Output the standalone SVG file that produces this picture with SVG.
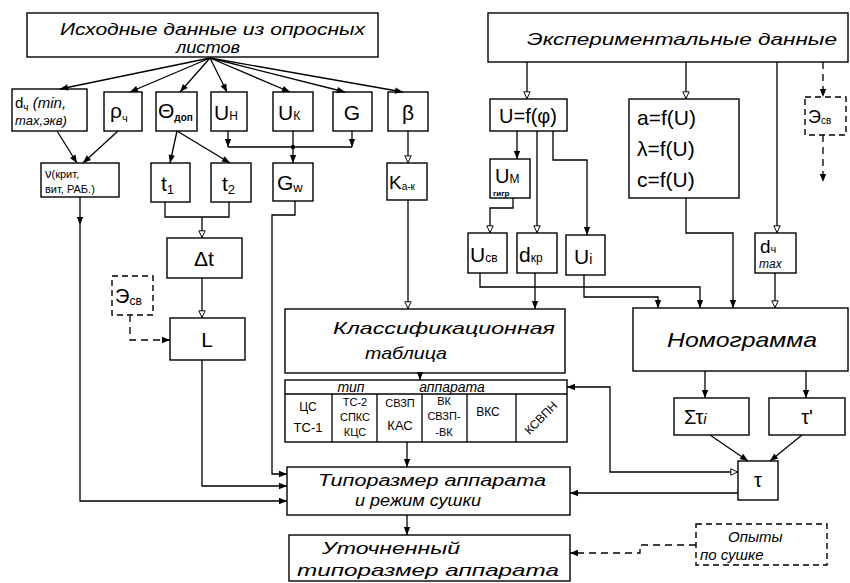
<svg xmlns="http://www.w3.org/2000/svg" width="850" height="583" viewBox="0 0 850 583">
<style>
rect{fill:none;stroke:#000;stroke-width:1.4}
.d{stroke-dasharray:6,4}
.c path,.c line{fill:none;stroke:#000;stroke-width:1.3}
.c .dl{stroke-dasharray:7,5}
text{font-family:"Liberation Sans","DejaVu Sans",sans-serif;fill:#000}
.h{font-style:italic;font-size:17px}
.s{font-size:21px}
.m{font-size:12px}
</style>
<defs>
<marker id="f" viewBox="0 0 10 10" refX="10" refY="5" markerWidth="10" markerHeight="8" markerUnits="userSpaceOnUse" orient="auto-start-reverse"><path d="M0,1 L10,5 L0,9 z" fill="#000"/></marker>
<marker id="o" viewBox="0 0 10 10" refX="10" refY="5" markerWidth="10" markerHeight="8" markerUnits="userSpaceOnUse" orient="auto-start-reverse"><path d="M1,1 L9.5,5 L1,9 z" fill="#fff" stroke="#000" stroke-width="1.2"/></marker>
</defs>
<rect x="0" y="0" width="850" height="583" style="fill:#fff;stroke:none"/>

<g id="src"><rect x="27" y="13" width="351" height="44"/><text class="h" x="60" y="35" textLength="305" lengthAdjust="spacingAndGlyphs">Исходные данные из опросных</text><text class="h" x="176" y="53" textLength="64" lengthAdjust="spacingAndGlyphs">листов</text></g>
<g id="dch"><rect x="12" y="89" width="75" height="42"/><text x="15" y="108" font-size="15">d<tspan font-size="10" dy="3">ч</tspan><tspan dy="-3" font-style="italic"> (min,</tspan></text><text x="15" y="125" font-size="13" font-style="italic">max,экв)</text></g>
<g id="rho"><rect x="104" y="92" width="38" height="39"/><text class="s" x="110" y="118">ρ<tspan font-size="11" dy="4">ч</tspan></text></g>
<g id="theta"><rect x="156" y="92" width="41" height="39"/><text class="s" x="158" y="118">Θ<tspan font-size="10" font-weight="bold" dy="3">доп</tspan></text></g>
<g id="un"><rect x="211" y="92" width="36" height="39"/><text class="s" x="214" y="120">U<tspan font-size="12">Н</tspan></text></g>
<g id="uk"><rect x="273" y="92" width="40" height="39"/><text class="s" x="278" y="120">U<tspan font-size="12">К</tspan></text></g>
<g id="g"><rect x="333" y="92" width="39" height="39"/><text class="s" x="352" y="120" text-anchor="middle">G</text></g>
<g id="beta"><rect x="388" y="92" width="40" height="39"/><text class="s" x="408" y="120" text-anchor="middle">β</text></g>

<g id="nu"><rect x="41" y="163" width="78" height="34"/><text x="45" y="178" font-size="13">ν<tspan font-size="11">(крит,</tspan></text><text x="45" y="193" font-size="11">вит, РАБ.)</text></g>
<g id="t1"><rect x="151" y="163" width="39" height="39"/><text class="s" x="161" y="191">t<tspan font-size="13" dy="3">1</tspan></text></g>
<g id="t2"><rect x="211" y="163" width="40" height="39"/><text class="s" x="222" y="191">t<tspan font-size="13" dy="3">2</tspan></text></g>
<g id="gw"><rect x="273" y="163" width="40" height="38"/><text class="s" x="277" y="190">G<tspan font-size="13" dy="2">w</tspan></text></g>
<g id="kak"><rect x="387" y="163" width="40" height="37"/><text x="389" y="189" font-size="19">K<tspan font-size="10" dy="1">а-к</tspan></text></g>

<g id="dt"><rect x="167" y="238" width="75" height="40"/><text class="s" x="204" y="266" text-anchor="middle">Δt</text></g>
<g id="esv1"><rect class="d" x="112" y="276" width="41" height="39"/><text x="115" y="303" font-size="20">Э<tspan font-size="12" dy="2">св</tspan></text></g>
<g id="l"><rect x="170" y="318" width="75" height="42"/><text class="s" x="207" y="347" text-anchor="middle">L</text></g>

<g id="klass"><rect x="285" y="309" width="280" height="64"/><text class="h" x="333" y="334" font-size="18" textLength="222" lengthAdjust="spacingAndGlyphs">Классификационная</text><text class="h" x="365" y="359" font-size="18" textLength="82" lengthAdjust="spacingAndGlyphs">таблица</text></g>

<g id="tip"><rect x="285" y="380" width="282" height="62"/>
<line x1="285" y1="394" x2="567" y2="394" style="stroke:#000;stroke-width:1.3"/>
<path d="M332,394V442M377,394V442M422,394V442M467,394V442M516,394V442" style="stroke:#000;stroke-width:1.3"/>
<text x="351" y="392" font-size="14" font-style="italic" text-anchor="middle">тип</text><text x="452" y="392" font-size="14" font-style="italic" text-anchor="middle">аппарата</text>
<g class="m" text-anchor="middle">
<text x="308" y="411">ЦС</text><text x="308" y="432" font-size="13">ТС-1</text>
<text x="355" y="406" font-size="11">ТС-2</text><text x="355" y="421" font-size="11">СПКС</text><text x="355" y="436" font-size="11">КЦС</text>
<text x="400" y="407" font-size="11">СВЗП</text><text x="400" y="430" font-size="13">КАС</text>
<text x="444" y="405" font-size="11">ВК</text><text x="444" y="420" font-size="11">СВЗП-</text><text x="444" y="436" font-size="11">-ВК</text>
<text x="488" y="416">ВКС</text>
<text x="541" y="422" font-size="12" transform="rotate(-45 541 418)">КСВПН</text>
</g></g>

<g id="tipor"><rect x="287" y="467" width="283" height="48"/><text x="318" y="486" font-size="16" font-style="italic" textLength="228" lengthAdjust="spacingAndGlyphs">Типоразмер аппарата</text><text x="355" y="506" font-size="16" font-style="italic" textLength="126" lengthAdjust="spacingAndGlyphs">и режим сушки</text></g>
<g id="utoch"><rect x="289" y="535" width="281" height="46"/><text x="322" y="554" font-size="17" font-style="italic" textLength="138" lengthAdjust="spacingAndGlyphs">Уточненный</text><text x="297" y="576" font-size="17" font-style="italic" textLength="262" lengthAdjust="spacingAndGlyphs">типоразмер аппарата</text></g>

<g id="exp"><rect x="488" y="13" width="360" height="49"/><text class="h" x="527" y="45" font-size="18" textLength="310" lengthAdjust="spacingAndGlyphs">Экспериментальные данные</text></g>
<g id="uf"><rect x="490" y="99" width="77" height="32"/><text x="528" y="123" font-size="20" text-anchor="middle">U=f(φ)</text></g>
<g id="um"><rect x="490" y="159" width="40" height="39"/><text x="495" y="183" font-size="20">U<tspan font-size="12">М</tspan></text><text x="493" y="196" font-size="8" font-weight="bold">гигр</text></g>
<g id="af"><rect x="629" y="99" width="110" height="99"/><text x="637" y="125" font-size="21">a=f(U)</text><text x="637" y="156" font-size="21">λ=f(U)</text><text x="637" y="187" font-size="21">c=f(U)</text></g>
<g id="esv2"><rect class="d" x="805" y="97" width="41" height="38"/><text x="808" y="123" font-size="18">Э<tspan font-size="10" dy="1">св</tspan></text></g>
<g id="ucv"><rect x="468" y="233" width="39" height="40"/><text x="470" y="262" font-size="21">U<tspan font-size="12">св</tspan></text></g>
<g id="dkr"><rect x="517" y="233" width="40" height="40"/><text x="519" y="262" font-size="21">d<tspan font-size="12">кр</tspan></text></g>
<g id="ui"><rect x="566" y="235" width="39" height="40"/><text x="574" y="264" font-size="21">U<tspan font-size="14">i</tspan></text></g>
<g id="dchmax"><rect x="755" y="233" width="41" height="40"/><text x="760" y="253" font-size="19">d<tspan font-size="11">ч</tspan></text><text x="759" y="268" font-size="12" font-style="italic">max</text></g>
<g id="nomo"><rect x="633" y="308" width="215" height="63"/><text x="667" y="347" font-size="21" font-style="italic" textLength="150" lengthAdjust="spacingAndGlyphs">Номограмма</text></g>
<g id="sti"><rect x="674" y="398" width="75" height="37"/><text x="684" y="424" font-size="20">Στ<tspan font-size="15" font-style="italic">i</tspan></text></g>
<g id="tp"><rect x="769" y="398" width="76" height="37"/><text x="807" y="424" font-size="20" text-anchor="middle">τ'</text></g>
<g id="tau"><rect x="738" y="461" width="40" height="39"/><text x="758" y="487" font-size="20" text-anchor="middle">τ</text></g>
<g id="opyty"><rect class="d" x="696" y="524" width="131" height="41"/><text x="728" y="542" font-size="15" font-style="italic">Опыты</text><text x="700" y="560" font-size="15" font-style="italic">по сушке</text></g>

<g id="connectors" class="c">
<path d="M210,58L60,89" marker-end="url(#f)"/>
<path d="M210,58L130,92" marker-end="url(#f)"/>
<path d="M210,58L180,92" marker-end="url(#f)"/>
<path d="M210,58L227,92" marker-end="url(#f)"/>
<path d="M210,58L290,92" marker-end="url(#f)"/>
<path d="M210,58L345,92" marker-end="url(#f)"/>
<path d="M210,58L403,92" marker-end="url(#f)"/>
<path d="M57,131L77,163" marker-end="url(#f)"/>
<path d="M118,131L83,163" marker-end="url(#f)"/>
<path d="M177,131L170,163" marker-end="url(#f)"/>
<path d="M177,131L230,163" marker-end="url(#f)"/>
<path d="M228,131V147" marker-end="url(#f)"/>
<path d="M352,131V147" marker-end="url(#f)"/>
<path d="M228,147H352"/>
<path d="M293,131V163" marker-end="url(#f)"/>
<circle cx="293" cy="147" r="2.2" fill="#000"/>
<path d="M408,131V163" marker-end="url(#o)"/>
<path d="M80,197V225" marker-end="url(#f)"/>
<path d="M80,225V501H287" marker-end="url(#f)"/>
<path d="M165,202V217H229V202"/>
<path d="M202,217V238" marker-end="url(#o)"/>
<path d="M202,278V318" marker-end="url(#o)"/>
<path class="dl" d="M130,315V340H170" marker-end="url(#f)"/>
<path d="M202,360V486H287" marker-end="url(#f)"/>
<path d="M295,201V215H272V474H287" marker-end="url(#f)"/>
<path d="M408,200V309" marker-end="url(#o)"/>
<path d="M420,373V380" marker-end="url(#f)"/>
<path d="M407,442V467" marker-end="url(#f)"/>
<path d="M407,515V535" marker-end="url(#f)"/>
<path d="M527,62V99" marker-end="url(#o)"/>
<path d="M686,62V99" marker-end="url(#o)"/>
<path d="M777,62V233" marker-end="url(#o)"/>
<path class="dl" d="M823,62V97" marker-end="url(#f)"/>
<path class="dl" d="M823,135V182" marker-end="url(#f)"/>
<path d="M517,131V159" marker-end="url(#f)"/>
<path d="M537,131V233" marker-end="url(#o)"/>
<path d="M553,131V160H587V235" marker-end="url(#f)"/>
<path d="M513,198V208H490V233" marker-end="url(#o)"/>
<path d="M480,273V287H700V308" marker-end="url(#f)"/>
<path d="M535,273V309" marker-end="url(#f)"/>
<path d="M584,275V297H658V308" marker-end="url(#f)"/>
<path d="M686,198V233H733V308" marker-end="url(#f)"/>
<path d="M775,273V308" marker-end="url(#o)"/>
<path d="M705,371V398" marker-end="url(#f)"/>
<path d="M806,371V398" marker-end="url(#f)"/>
<path d="M710,435L748,461" marker-end="url(#f)"/>
<path d="M802,435L770,461" marker-end="url(#f)"/>
<path d="M738,472H610V387H567" marker-start="url(#o)" marker-end="url(#f)"/>
<path d="M738,493H570" marker-end="url(#f)"/>
<path class="dl" d="M696,545H640V553H570" marker-end="url(#f)"/>
</g>
</svg>
